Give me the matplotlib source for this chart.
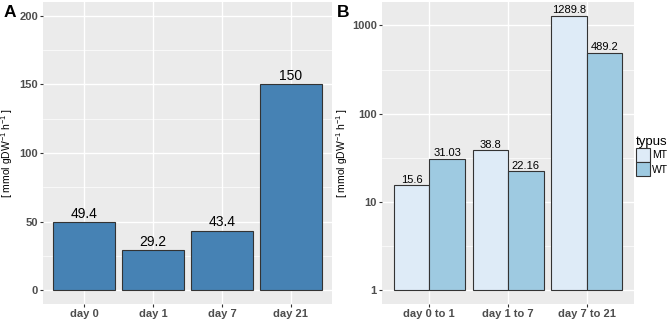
import numpy as np
import matplotlib.pyplot as plt
from matplotlib.patches import Patch

plt.rcParams['font.family'] = ['Liberation Sans', 'DejaVu Sans']
plt.rcParams['mathtext.fontset'] = 'custom'
plt.rcParams['mathtext.rm'] = 'Liberation Sans'
plt.rcParams['mathtext.it'] = 'Liberation Sans'

# Panel A data
days_a = ['day 0', 'day 1', 'day 7', 'day 21']
values_a = [49.4, 29.2, 43.4, 150]
labels_a = ['49.4', '29.2', '43.4', '150']

# Panel B data
periods_b = ['day 0 to 1', 'day 1 to 7', 'day 7 to 21']
mt_values = [15.6, 38.8, 1289.8]
wt_values = [31.03, 22.16, 489.2]
mt_labels = ['15.6', '38.8', '1289.8']
wt_labels = ['31.03', '22.16', '489.2']

PANEL_BG = '#EBEBEB'
TEXT_GRAY = '#4D4D4D'
EDGE = '#333333'
ylabel = r'[ mmol gDW$^{-1}$ h$^{-1}$ ]'


def style_axes(ax):
    ax.set_facecolor(PANEL_BG)
    for s in ax.spines.values():
        s.set_visible(False)
    ax.grid(which='major', color='white', linewidth=1.0)
    ax.grid(which='minor', axis='y', color='white', linewidth=0.5)
    ax.set_axisbelow(True)
    ax.tick_params(which='major', length=2.5, width=0.8, color='#333333',
                   labelcolor=TEXT_GRAY, labelsize=8, pad=1.2)
    ax.tick_params(which='minor', length=0)
    for lab in ax.get_xticklabels() + ax.get_yticklabels():
        lab.set_fontweight('bold')


fig = plt.figure(figsize=(6.69, 3.19), dpi=100)

# ---- Panel A ----
axA = fig.add_axes([0.0643, 0.047, 0.432, 0.947])
xa = np.arange(1, len(days_a) + 1)
axA.bar(xa, values_a, width=0.9, color='#4682B4', edgecolor=EDGE, linewidth=0.8)
for x, v, t in zip(xa, values_a, labels_a):
    axA.text(x, v + 1.0, t, ha='center', va='bottom', fontsize=10, color='black')
axA.set_xlim(0.4, 4.6)
axA.set_ylim(-10, 210)
axA.set_xticks(xa)
axA.set_xticklabels(days_a)
axA.set_yticks([0, 50, 100, 150, 200])
axA.set_yticks([25, 75, 125, 175], minor=True)
style_axes(axA)
axA.set_ylabel(ylabel, fontsize=7.5, color='black')
axA.yaxis.set_label_coords(-0.097, 0.5)
fig.text(0.005, 0.985, 'A', fontsize=12.5, fontweight='bold', va='top', ha='left')

# ---- Panel B ----
axB = fig.add_axes([0.571, 0.047, 0.377, 0.947])
xb = np.arange(1, len(periods_b) + 1)
w = 0.45
axB.bar(xb - w / 2, np.array(mt_values) - 1, bottom=1, width=w, color='#DEEBF7',
        edgecolor=EDGE, linewidth=0.8, label='MT')
axB.bar(xb + w / 2, np.array(wt_values) - 1, bottom=1, width=w, color='#9ECAE1',
        edgecolor=EDGE, linewidth=0.8, label='WT')
axB.set_yscale('log')
for x, v, t in zip(xb - w / 2, mt_values, mt_labels):
    axB.text(x, v * 1.01, t, ha='center', va='bottom', fontsize=8, color='black')
for x, v, t in zip(xb + w / 2, wt_values, wt_labels):
    axB.text(x, v * 1.01, t, ha='center', va='bottom', fontsize=8, color='black')
axB.set_xlim(0.4, 3.6)
lo = -0.05 * np.log10(max(mt_values))
hi = np.log10(max(mt_values)) * 1.05
axB.set_ylim(10 ** lo, 10 ** hi)
axB.set_xticks(xb)
axB.set_xticklabels(periods_b)
axB.set_yticks([1, 10, 100, 1000])
axB.set_yticklabels(['1', '10', '100', '1000'])
axB.set_yticks([10 ** 0.5, 10 ** 1.5, 10 ** 2.5], minor=True)
axB.yaxis.set_minor_formatter(plt.NullFormatter())
style_axes(axB)
axB.set_ylabel(ylabel, fontsize=7.5, color='black')
axB.yaxis.set_label_coords(-0.127, 0.5)
fig.text(0.503, 0.985, 'B', fontsize=12.5, fontweight='bold', va='top', ha='left')

handles = [Patch(facecolor='#DEEBF7', edgecolor=EDGE, linewidth=0.8, label='MT'),
           Patch(facecolor='#9ECAE1', edgecolor=EDGE, linewidth=0.8, label='WT')]
fig.legend(handles=handles, title='typus', loc='upper left',
           bbox_to_anchor=(0.951, 0.575), frameon=False, fontsize=7.5,
           title_fontsize=9.5, handlelength=1.35, handleheight=1.75,
           handletextpad=0.2, labelspacing=0.0, borderaxespad=0, borderpad=0.0,
           alignment='left')

fig.savefig('out.png', dpi=100)
